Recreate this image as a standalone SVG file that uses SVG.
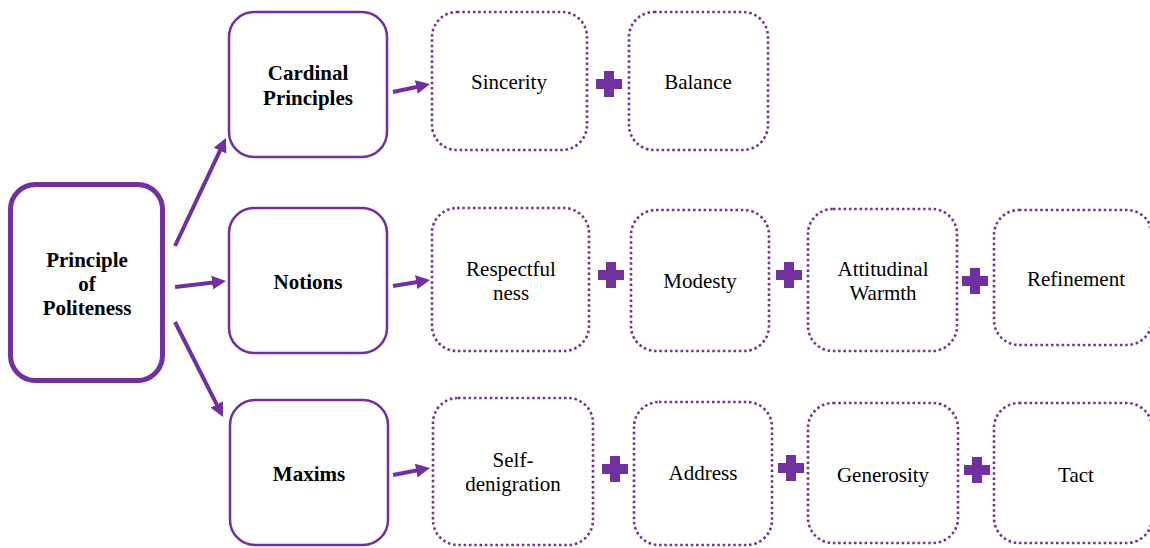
<svg xmlns="http://www.w3.org/2000/svg" xmlns:xlink="http://www.w3.org/1999/xlink" width="1150" height="548" viewBox="0 0 1150 548">
<defs>
<style>
.main{fill:#fff;stroke:#7030A0;stroke-width:5}
.solid{fill:#fff;stroke:#7030A0;stroke-width:2.5}
.dot{fill:#fff;stroke:#7030A0;stroke-width:2.6;stroke-dasharray:2.5 2.8}
.conn{stroke:#7030A0;stroke-width:4;fill:none;marker-end:url(#ah)}
.plus{fill:#7030A0}
text{font-family:"Liberation Serif","Times New Roman",serif;font-size:21px;fill:#000;text-anchor:middle}
.b{font-weight:bold}
</style>
<marker id="ah" viewBox="0 0 10 10" refX="1" refY="5" markerWidth="3.5" markerHeight="3.5" orient="auto" markerUnits="strokeWidth">
<path d="M0,0 L10,5 L0,10 z" fill="#7030A0"/>
</marker>
<path id="plus" d="M-5,-13 h10 v8 h8 v10 h-8 v8 h-10 v-8 h-8 v-10 h8 z"/>
</defs>

<g id="connectors">
<path class="conn" d="M175,246 L220.6,149.4"/>
<path class="conn" d="M175,287 L213.5,282.5"/>
<path class="conn" d="M175,322 L217.3,405.7"/>
<path class="conn" d="M393,92 L417.7,86.7"/>
<path class="conn" d="M393,286 L417.6,282"/>
<path class="conn" d="M393,475 L417.6,470.3"/>
</g>

<g id="plus-signs" class="plus">
<use xlink:href="#plus" x="609" y="84"/>
<use xlink:href="#plus" x="611" y="275"/>
<use xlink:href="#plus" x="789" y="275"/>
<use xlink:href="#plus" x="975" y="281"/>
<use xlink:href="#plus" x="615" y="469"/>
<use xlink:href="#plus" x="791" y="468"/>
<use xlink:href="#plus" x="977" y="470"/>
</g>

<g id="node-principle">
<rect class="main" x="10.5" y="184.5" width="152" height="196" rx="25"/>
<text class="b" x="87" y="267">Principle</text>
<text class="b" x="87" y="291">of</text>
<text class="b" x="87" y="315">Politeness</text>
</g>

<g id="node-cardinal">
<rect class="solid" x="229" y="12" width="158" height="145" rx="25"/>
<text class="b" x="308" y="80">Cardinal</text>
<text class="b" x="308" y="105">Principles</text>
</g>
<g id="node-notions">
<rect class="solid" x="229" y="208" width="158" height="145" rx="25"/>
<text class="b" x="308" y="289">Notions</text>
</g>
<g id="node-maxims">
<rect class="solid" x="230" y="400" width="158" height="145" rx="25"/>
<text class="b" x="309" y="481">Maxims</text>
</g>

<g id="node-sincerity">
<rect class="dot" x="432" y="12" width="155" height="138" rx="25"/>
<text x="509" y="89">Sincerity</text>
</g>
<g id="node-balance">
<rect class="dot" x="629" y="12" width="139" height="138" rx="25"/>
<text x="698" y="89">Balance</text>
</g>

<g id="node-respectfulness">
<rect class="dot" x="432" y="208" width="157" height="143" rx="25"/>
<text x="511" y="276">Respectful</text>
<text x="511" y="300">ness</text>
</g>
<g id="node-modesty">
<rect class="dot" x="631" y="210" width="138" height="141" rx="25"/>
<text x="700" y="288">Modesty</text>
</g>
<g id="node-attitudinal">
<rect class="dot" x="808" y="209" width="149" height="142" rx="25"/>
<text x="883" y="276">Attitudinal</text>
<text x="883" y="300">Warmth</text>
</g>
<g id="node-refinement">
<rect class="dot" x="994" y="210" width="158" height="135" rx="25"/>
<text x="1076" y="286">Refinement</text>
</g>

<g id="node-selfdenigration">
<rect class="dot" x="433" y="398" width="160" height="147" rx="25"/>
<text x="513" y="467">Self-</text>
<text x="513" y="491">denigration</text>
</g>
<g id="node-address">
<rect class="dot" x="634" y="402" width="138" height="143" rx="25"/>
<text x="703" y="480">Address</text>
</g>
<g id="node-generosity">
<rect class="dot" x="808" y="403" width="150" height="140" rx="25"/>
<text x="883" y="482">Generosity</text>
</g>
<g id="node-tact">
<rect class="dot" x="994" y="403" width="158" height="140" rx="25"/>
<text x="1076" y="482">Tact</text>
</g>
</svg>
